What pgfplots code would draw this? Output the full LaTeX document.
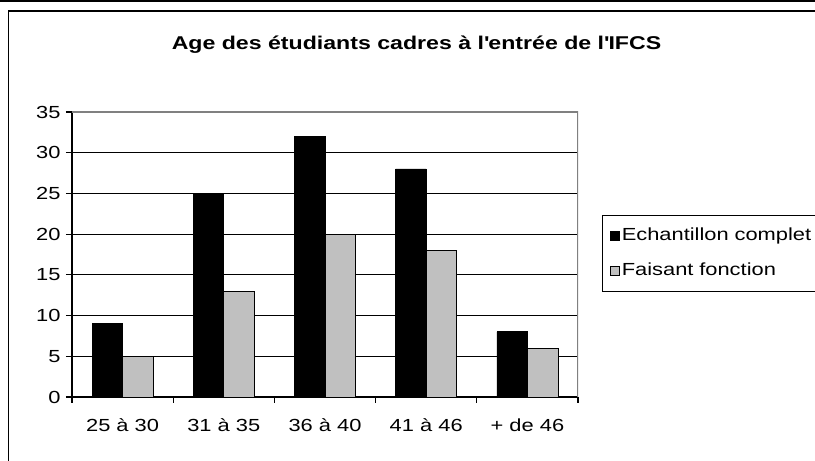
\documentclass[border=0pt]{standalone}
\usepackage{fontspec}
\setmainfont{Liberation Sans}[FakeStretch=1.25]
\usepackage{pgfplots}
\pgfplotsset{compat=1.18}
\definecolor{barGray}{HTML}{C0C0C0}
\definecolor{borderGray}{HTML}{808080}
\begin{document}
\begin{tikzpicture}[x=1bp,y=1bp]
\useasboundingbox (0,0) rectangle (815,461);
\clip (0,0) rectangle (815,461);
\fill[white] (0,0) rectangle (815,461);
\draw[line width=2.5bp] (0,460.5) -- (815,460.5);
\draw[line width=1.5bp] (8.5,-20) -- (8.5,450) -- (840,450);
\node[font=\fontsize{18.5bp}{22bp}\selectfont\bfseries, anchor=base, inner sep=0pt] at (416.5,411.7) {Age des étudiants cadres à l\textquotesingle entrée de l\textquotesingle IFCS};
\begin{axis}[
  at={(72bp,64bp)}, anchor=south west,
  scale only axis, width=506bp, height=285bp,
  xmin=-0.5, xmax=4.5, ymin=0, ymax=35,
  axis lines*=left,
  axis line style={-, black, line width=1.2bp},
  ytick={0,5,...,35},
  xtick={-0.5,0.5,...,4.5},
  xticklabels={25 à 30, 31 à 35, 36 à 40, 41 à 46, + de 46, {}},
  xticklabel style={xshift=50.6bp, yshift=-12bp, font=\fontsize{17.5bp}{20bp}\selectfont},
  yticklabel style={xshift=-2bp, font=\fontsize{17.5bp}{20bp}\selectfont},
  /pgf/number format/assume math mode=true,
  tick align=outside,
  major tick length=6bp,
  tick style={black, line width=1.2bp},
  ymajorgrids,
  grid style={black, line width=1.2bp},
  ybar=0pt, bar width=30.5bp,
  mylegend/.style={legend image code/.code={\draw[##1, line width=0.8bp] (0bp,-4.25bp) rectangle (9bp,4.25bp);}},
  legend style={at={(axis description cs:1.0474,0.6386)}, anchor=north west,
    draw=black, line width=1bp, fill=white,
    font=\fontsize{17.5bp}{20bp}\selectfont,
    inner xsep=8bp, inner ysep=12bp, row sep=18bp,
    nodes={inner sep=0pt, text height=13bp, text depth=4bp},
    /tikz/every odd column/.append style={column sep=1.5bp},
    /tikz/every even column/.append style={text width=210bp}},
  legend cell align=left,
]
\addplot[fill=black, draw=black, line width=0.8bp, mylegend] coordinates {(0,9) (1,25) (2,32) (3,28) (4,8)};
\addlegendentry{Echantillon complet}
\addplot[fill=barGray, draw=black, line width=0.8bp, mylegend] coordinates {(0,5) (1,13) (2,20) (3,18) (4,6)};
\addlegendentry{Faisant fonction}
\draw[borderGray, line width=1.2bp] (rel axis cs:0,1) -- (rel axis cs:1,1) -- (rel axis cs:1,0);
\end{axis}
\end{tikzpicture}
\end{document}
